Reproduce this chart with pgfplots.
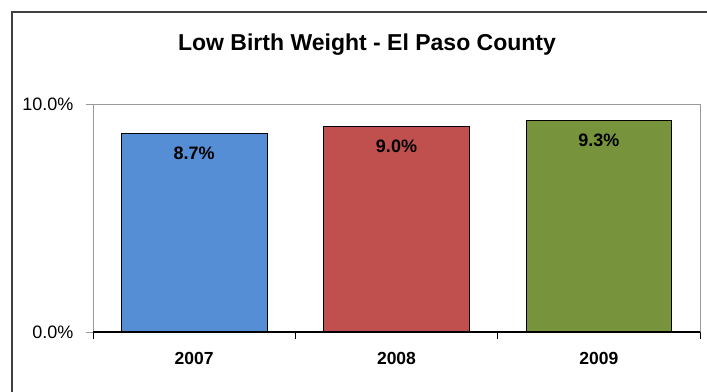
\documentclass[border=0pt]{standalone}
\usepackage{pgfplots}
\pgfplotsset{compat=1.18}
\usepackage{fontspec}
\setmainfont{Liberation Sans}
\definecolor{cblue}{HTML}{558ED5}
\definecolor{cred}{HTML}{C0504D}
\definecolor{cgreen}{HTML}{77933C}
\begin{document}
\begin{tikzpicture}[x=1pt,y=1pt]
\useasboundingbox (0,0) rectangle (707,391);
\draw[line width=1.5pt, color=black!75] (12,-5) -- (12,379) -- (712,379);
\node[font=\bfseries\fontsize{23}{27}\selectfont] at (367,346) {Low Birth Weight - El Paso County};
\begin{axis}[
  at={(93pt,59pt)}, anchor=south west,
  scale only axis, width=607pt, height=228pt,
  xmin=-0.5, xmax=2.5, ymin=0, ymax=10,
  axis line style={draw=gray!80, line width=0.8pt},
  tick align=outside, major tick length=7pt,
  xtick pos=lower, ytick pos=left,
  ytick={0,10}, yticklabels={0.0\%,10.0\%},
  yticklabel style={font=\fontsize{18}{20}\selectfont, xshift=-9pt},
  y tick style={gray!80, line width=0.8pt},
  xtick={0,1,2}, xticklabels={2007,2008,2009},
  x tick style={draw=none},
  xticklabel style={font=\bfseries\fontsize{17.5}{20}\selectfont, yshift=-10pt},
  extra x ticks={-0.5,0.5,1.5,2.5}, extra x tick labels={},
  extra x tick style={x tick style={draw=black, line width=0.8pt}},
  ybar, bar width=0.72,
  nodes near coords,
  point meta=explicit symbolic,
  every node near coord/.append style={font=\bfseries\fontsize{18}{20}\selectfont, anchor=center, yshift=-20pt},
]
\addplot[fill=cblue, draw=black, line width=0.6pt, bar shift=0] coordinates {(0,8.7) [8.7\%]};
\addplot[fill=cred, draw=black, line width=0.6pt, bar shift=0] coordinates {(1,9.0) [9.0\%]};
\addplot[fill=cgreen, draw=black, line width=0.6pt, bar shift=0] coordinates {(2,9.3) [9.3\%]};
\draw[black, line width=1.2pt] (axis cs:-0.5,0) -- (axis cs:2.5,0);
\end{axis}
\end{tikzpicture}
\end{document}
